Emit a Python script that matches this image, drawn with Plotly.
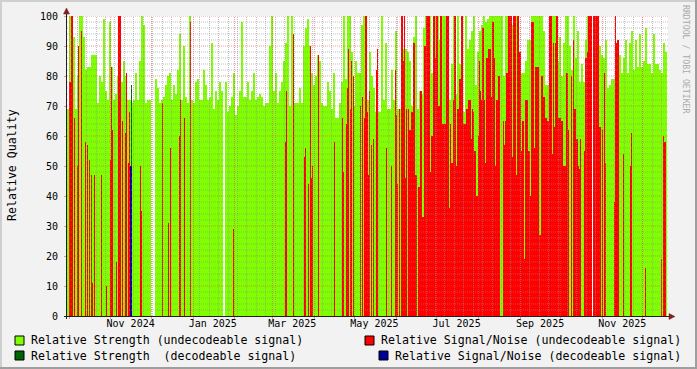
import numpy as np
import pandas as pd
import plotly.graph_objects as go

# ---------------- data ----------------
# Relative Strength (undecodeable): one value per coarse step (2 fine steps)
STRENGTH_UNDEC = [
    69, 100, 100, 93, 69, 80, 100, 100, 93, 82,
    83, 83, 87, 87, 87, 71, 80, 78, 99, 75,
    72, 98, 83, 72, 74, 80, 100, 78, 85, 80,
    72, 72, 71, 72, 81, 72, 85, 100, 97, 71,
    72, 72, None, None, 79, 76, 71, 72, 73, 77,
    80, 81, 72, 77, 74, 82, 94, 72, 90, 73,
    71, 100, 72, 71, 78, 79, 72, 72, 82, 77,
    72, 73, 91, 69, 75, 72, 78, 75, None, 78,
    68, 70, 73, 81, 67, 70, 75, 98, 73, 73,
    78, 72, 75, 81, 72, 73, 74, 73, 70, 71,
    71, 90, 100, 75, 81, 71, 75, 78, 85, 91,
    100, 70, 100, 71, 71, 71, 76, 71, 90, 96,
    99, 90, 81, 77, 80, 87, 85, 71, 70, 70,
    78, 75, 69, 81, 66, 66, 71, 78, 100, 79,
    100, 100, 88, 70, 85, 81, 81, 97, 100, 100,
    72, 88, 80, 76, 68, 68, 68, 100, 72, 91,
    69, 69, 82, 72, 95, 69, 69, 97, 89, 89,
    88, 85, 70, 93, 100, 69, 75, 74, 96, 100,
    100, 100, 81, 100, 100, 100, 92, 100, 100, 100,
    100, 72, 84, 100, 74, 100, 84, 100, 68, 100,
    89, 92, 95, 100, 77, 88, 95, 97, 100, 98,
    99, 100, 100, 100, 100, 100, 100, 100, 80, 100,
    100, 100, 97, 100, 100, 100, 81, 81, 81, 85,
    92, 92, 100, 100, 100, 100, 100, 100, 95, 77,
    77, 100, 100, 100, 100, 85, 93, 80, 91, 100,
    100, 90, 82, 100, 86, 95, 78, 84, 78, 92,
    100, 100, None, 100, 100, 100, 90, 87, 86, 92,
    76, 77, 79, 79, 91, 92, 87, 81, 86, 92,
    81, 91, 95, 82, 92, 83, 94, 83, 85, 96,
    84, 84, 81, 94, 84, 84, 82, 81, 91, 88,
]

# Relative Signal/Noise (undecodeable): one value per fine step
SNR_UNDEC = [
    0, 0, 78, 78, 100, 100, 0, 66, 0, 0, 50, 90, 0, 0, 95, 0, 0, 0, 58, 0,
    57, 0, 52, 0, 47, 11, 0, 47, 0, 0, 0, 0, 0, 0, 47, 0, 0, 0, 0, 10,
    0, 0, 0, 52, 83, 62, 0, 0, 0, 18, 0, 100, 100, 100, 0, 65, 0, 0, 61, 81,
    0, 51, 68, 0, 0, 0, 0, 0, 0, 0, 0, 0, 0, 50, 35, 0, 0, 0, 0, 0,
    0, 0, 0, 0, None, None, None, None, 0, 0, 0, 0, 0, 0, 0, 71, 0, 0, 0, 0,
    0, 31, 0, 56, 0, 0, 0, 0, 0, 0, 0, 0, 60, 72, 0, 0, 0, 66, 0, 0,
    0, 0, 0, 98, 0, 0, 0, 0, 0, 0, 0, 0, 0, 0, 0, 0, 0, 0, 0, 0,
    0, 0, 0, 0, 0, 0, 0, 0, 0, 0, 0, 0, 0, 0, 0, 0, None, None, 0, 0,
    0, 0, 0, 0, 0, 0, 29, 0, 0, 0, 0, 0, 0, 0, 0, 0, 0, 0, 0, 0,
    0, 0, 0, 0, 0, 0, 0, 0, 0, 0, 0, 0, 0, 0, 0, 0, 0, 0, 0, 0,
    0, 0, 0, 0, 0, 0, 0, 0, 0, 0, 0, 0, 0, 0, 0, 0, 0, 0, 58, 75,
    0, 0, 0, 0, 0, 0, 94, 0, 0, 0, 0, 0, 0, 0, 0, 0, 0, 53, 56, 0,
    0, 44, 0, 90, 46, 50, 0, 0, 0, 0, 0, 87, 0, 0, 0, 0, 0, 0, 0, 0,
    0, 0, 0, 0, 0, 0, 0, 58, 0, 0, 0, 0, 0, 0, 0, 66, 48, 0, 0, 64,
    76, 89, 0, 69, 85, 0, 80, 0, 0, 0, 0, 0, 0, 70, 0, 73, 0, 66, 100, 100,
    68, 47, 75, 0, 57, 0, 59, 0, 0, 82, 89, 0, 0, 0, 0, 0, 0, 0, 0, 56,
    0, 0, 0, 0, 50, 0, 0, 0, 82, 67, 44, 0, 69, 0, 100, 100, 85, 100, 46, 69,
    0, 69, 62, 62, 68, 68, 91, 91, 47, 47, 0, 43, 43, 75, 75, 33, 33, 90, 90, 100,
    100, 100, 100, 48, 60, 60, 100, 100, 86, 100, 100, 70, 70, 100, 100, 64, 64, 64, 64, 100,
    100, 100, 36, 64, 51, 51, 72, 100, 100, 50, 69, 69, 79, 79, 100, 100, 64, 64, 64, 69,
    69, 72, 72, 72, 59, 69, 68, 55, 55, 40, 40, 60, 85, 75, 72, 96, 96, 72, 51, 86,
    86, 89, 89, 89, 73, 98, 98, 86, 50, 72, 72, 80, 80, 0, 0, 0, 65, 57, 65, 81,
    81, 100, 100, 100, 100, 53, 100, 100, 100, 47, 100, 100, 88, 88, 55, 65, 65, 19, 72, 72,
    72, 55, 55, 40, 98, 98, 98, 56, 83, 83, 83, 83, 27, 27, 80, 80, 73, 73, 66, 66,
    65, 65, 100, 100, 100, 54, 91, 63, 91, 100, 100, 66, 66, 66, 65, 65, 50, 50, 50, 81,
    81, 62, 0, 0, 80, 0, 92, 69, 69, 59, 59, 50, 49, 59, 0, 0, 0, 55, 86, 86,
    88, 100, 100, 100, 100, None, 100, 100, 100, 100, 100, 100, 63, 63, 0, 62, 0, 81, 51, 0,
    0, 0, 0, 0, 0, 0, 0, 38, 100, 91, 92, 92, 0, 0, 0, 0, 54, 0, 0, 0,
    0, 0, 0, 50, 61, 0, 0, 0, 0, 0, 0, 0, 0, 0, 0, 0, 0, 0, 16, 0,
    0, 0, 0, 0, 0, 0, 0, 0, 0, 0, 0, 0, 0, 0, 19, 0, 60, 58, 58, 0,
]

# decodeable samples are rare: (fine step index, value)
STRENGTH_DEC_STEPS = [64]
STRENGTH_DEC_VALUES = [77]
SNR_DEC_STEPS = [63, 64]
SNR_DEC_VALUES = [50, 50]

X_TICK_LABELS = ["Nov 2024", "Jan 2025", "Mar 2025", "May 2025",
                 "Jul 2025", "Sep 2025", "Nov 2025"]
X_TICK_DATES = ["2024-11-16", "2025-01-16", "2025-03-16", "2025-05-16",
                "2025-07-16", "2025-09-16", "2025-11-16"]
Y_TICKS = list(range(0, 101, 10))

SERIES_NAMES = ["Relative Strength (undecodeable signal)",
                "Relative Strength  (decodeable signal)",
                "Relative Signal/Noise (undecodeable signal)",
                "Relative Signal/Noise (decodeable signal)"]

# ---------------- geometry / style ----------------
W, H = 697, 369
L, R, T, B = 67, 668, 16, 316
START = pd.Timestamp("2024-09-29 18:40")   # time of fine step 0
STEP_DAYS = 1.0 / 1.347                      # one fine step (RRD consolidation)
N_SPAN = R - L                               # fine steps shown on the axis


def t2s(d):
    """date -> fine step coordinate"""
    return (pd.Timestamp(d) - START) / pd.Timedelta(days=STEP_DAYS)


END = START + pd.Timedelta(days=N_SPAN * STEP_DAYS)

C_GREEN = "#80FF00"
C_DGREEN = "#006400"
C_RED = "#FF0000"
C_BLUE = "#000099"
C_GRID = "rgba(143,143,143,0.55)"
C_MGRID = "rgba(222,79,79,0.55)"
C_ARROW = "#801F1F"
C_AXIS = "#1F1F1F"
FONT = "DejaVu Sans Mono"

x_coarse = [2 * i + 1 for i in range(len(STRENGTH_UNDEC))]
x_fine = [i + 0.5 for i in range(len(SNR_UNDEC))]

strength_dec = [None] * len(SNR_UNDEC)
for i, v in zip(STRENGTH_DEC_STEPS, STRENGTH_DEC_VALUES):
    strength_dec[i] = v
snr_dec = [None] * len(SNR_UNDEC)
for i, v in zip(SNR_DEC_STEPS, SNR_DEC_VALUES):
    snr_dec[i] = v


def px(xp):
    return (xp - L) / (R - L)


def py(yp):
    return (B - yp) / (B - T)


fig = go.Figure()
for xs, w, vals, col in [(x_coarse, 2, STRENGTH_UNDEC, C_GREEN),
                         (x_fine, 1, SNR_UNDEC, C_RED),
                         (x_fine, 1, strength_dec, C_DGREEN),
                         (x_fine, 1, snr_dec, C_BLUE)]:
    fig.add_trace(go.Bar(x=xs, y=vals, width=w, marker=dict(color=col, line=dict(width=0)),
                         showlegend=False, hoverinfo="skip"))

shapes = []
# horizontal grid
for v in range(2, 101, 2):
    shapes.append(dict(type="line", xref="paper", yref="y", x0=0, x1=1, y0=v, y1=v,
                       line=dict(color=C_MGRID if v % 10 == 0 else C_GRID, width=1, dash="1px,1px"),
                       layer="above"))
# vertical grid: weekly minor, monthly major
months = pd.date_range("2024-10-01", END, freq="MS")
weeks = pd.date_range("2024-09-30", END, freq="7D")
for d in weeks:
    s = round(t2s(d)) + 0.5
    if s < 1:
        continue
    shapes.append(dict(type="line", xref="x", yref="paper", x0=s, x1=s, y0=0, y1=1,
                       line=dict(color=C_GRID, width=1, dash="1px,1px"), layer="above"))
for d in months:
    s = round(t2s(d)) + 0.5
    shapes.append(dict(type="line", xref="x", yref="paper", x0=s, x1=s, y0=0, y1=1,
                       line=dict(color=C_MGRID, width=1, dash="1px,1px"), layer="above"))
    shapes.append(dict(type="line", xref="x", yref="paper", x0=s, x1=s, y0=py(316), y1=py(319),
                       line=dict(color=C_MGRID, width=1), layer="above"))
# axes
shapes.append(dict(type="line", xref="paper", yref="paper", x0=px(64), x1=px(671), y0=py(316.5), y1=py(316.5),
                   line=dict(color=C_AXIS, width=1), layer="above"))
shapes.append(dict(type="line", xref="paper", yref="paper", x0=px(66.5), x1=px(66.5), y0=py(319), y1=py(12),
                   line=dict(color=C_AXIS, width=1), layer="above"))
# arrows
shapes.append(dict(type="path", xref="paper", yref="paper",
                   path="M %f %f L %f %f L %f %f Z" % (px(63.5), py(14), px(69.5), py(14), px(66.5), py(8)),
                   fillcolor=C_ARROW, line=dict(color=C_ARROW, width=0.5), layer="above"))
shapes.append(dict(type="path", xref="paper", yref="paper",
                   path="M %f %f L %f %f L %f %f Z" % (px(669), py(313.5), px(669), py(319.5), px(675), py(316.5)),
                   fillcolor=C_ARROW, line=dict(color=C_ARROW, width=0.5), layer="above"))
# 3D frame
shapes.append(dict(type="rect", xref="paper", yref="paper", x0=px(0), x1=px(W), y0=py(0), y1=py(2),
                   fillcolor="#CFCFCF", line=dict(width=0), layer="below"))
shapes.append(dict(type="rect", xref="paper", yref="paper", x0=px(0), x1=px(2), y0=py(0), y1=py(H),
                   fillcolor="#CFCFCF", line=dict(width=0), layer="below"))
shapes.append(dict(type="rect", xref="paper", yref="paper", x0=px(0), x1=px(W), y0=py(H - 2), y1=py(H),
                   fillcolor="#9E9E9E", line=dict(width=0), layer="below"))
shapes.append(dict(type="rect", xref="paper", yref="paper", x0=px(W - 2), x1=px(W), y0=py(0), y1=py(H),
                   fillcolor="#9E9E9E", line=dict(width=0), layer="below"))

# legend boxes + texts
legend_items = [
    (15, 340.5, C_GREEN, SERIES_NAMES[0], 30),
    (15, 355.5, C_DGREEN, SERIES_NAMES[1], 30),
    (365, 340.5, C_RED, SERIES_NAMES[2], 380),
    (379, 355.5, C_BLUE, SERIES_NAMES[3], 394),
]
annotations = []
for bx, cy, col, name, tx in legend_items:
    shapes.append(dict(type="rect", xref="paper", yref="paper", x0=px(bx), x1=px(bx + 9),
                       y0=py(cy - 4.5), y1=py(cy + 4.5), fillcolor=col,
                       line=dict(color="#000000", width=1), layer="above"))
    annotations.append(dict(text=name, xref="paper", yref="paper", x=px(tx - 1), y=py(cy),
                            xanchor="left", yanchor="middle", showarrow=False,
                            font=dict(family=FONT, size=11.6, color="#000000")))

annotations.append(dict(text="Relative Quality", xref="paper", yref="paper", x=px(12), y=py(165),
                        textangle=-90, showarrow=False, xanchor="center", yanchor="middle",
                        font=dict(family=FONT, size=11.6, color="#000000")))
annotations.append(dict(text="RRDTOOL / TOBI OETIKER", xref="paper", yref="paper", x=px(686), y=py(59),
                        textangle=90, showarrow=False, xanchor="center", yanchor="middle",
                        font=dict(family=FONT, size=8.2, color="#AAAAAA")))

fig.update_layout(
    template="none",
    width=W, height=H,
    margin=dict(l=L, r=W - R, t=T, b=H - B, pad=0),
    paper_bgcolor="#F2F2F2", plot_bgcolor="#FFFFFF",
    barmode="overlay", bargap=0,
    showlegend=False,
    shapes=shapes, annotations=annotations,
    xaxis=dict(type="linear", range=[0, N_SPAN], tickmode="array",
               tickvals=[t2s(d) for d in X_TICK_DATES],
               ticktext=X_TICK_LABELS, ticks="", showgrid=False, zeroline=False, showline=False,
               tickfont=dict(family=FONT, size=10, color="#000000"), automargin=False),
    yaxis=dict(range=[0, 100], tickmode="array", tickvals=Y_TICKS, ticks="outside", ticklen=2,
               tickcolor=C_MGRID, showgrid=False, zeroline=False, showline=False,
               tickfont=dict(family=FONT, size=10, color="#000000"), automargin=False,
               ticklabelstandoff=4),
)

fig.write_html("out.html")
